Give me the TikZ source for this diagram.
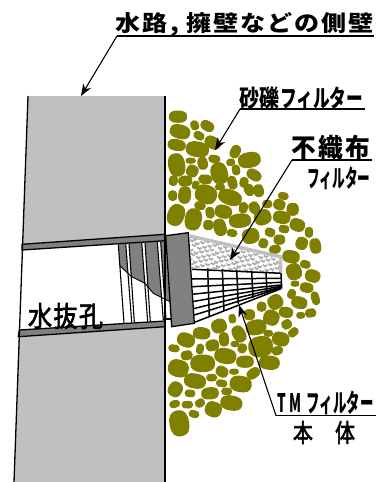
\documentclass[tikz,border=0pt]{standalone}
\usepackage{fontspec}
\usepackage{graphicx}
\usetikzlibrary{arrows.meta}
\newfontfamily\cjk{Noto Sans CJK JP}[LetterSpace=8]
\newfontfamily\cjktight{Noto Sans CJK JP}
\newfontfamily\cjkmid{Noto Sans CJK JP}[FakeBold=2.5,LetterSpace=6]
\definecolor{stonecol}{HTML}{808000}
\definecolor{wallcol}{HTML}{C0C0C0}
\definecolor{darkcol}{HTML}{808080}
\tikzset{
  stone/.style={fill=stonecol,draw=stonecol,line width=1pt,line join=round},
  edgeline/.style={draw=black,line width=1.3pt},
  rib/.style={draw=black,line width=1.1pt},
  mesh/.style={draw=black,line width=1.5pt},
  label/.style={inner sep=0pt,outer sep=0pt,anchor=center,text=black},
  underline/.style={draw=black,line width=1.3pt},
  pointer/.style={draw=black,line width=1.1pt,-{Stealth[length=12pt,width=9pt]}},
}
\newcommand{\fit}[3]{\resizebox*{#1pt}{#2pt}{#3}}
\newcommand{\stoneset}[3]{%
  \foreach \x/\y/\a/\b/\r in {#3}{%
    \pgfmathsetmacro{\pa}{\a/3}\pgfmathsetmacro{\pb}{\b/3}%
    \pgfmathsetmacro{\qa}{0.68*\pa}\pgfmathsetmacro{\qb}{0.68*\pb}%
    \draw[stone,shift={(#1+\x/3,#2+\y/3)},rotate=-\r] (\pa,0) .. controls (\pa,\qb) and (\qa,\pb) .. (0,\pb) .. controls (-\qa,\pb) and (-\pa,\qb) .. (-\pa,0) .. controls (-\pa,-\qb) and (-\qa,-\pb) .. (0,-\pb) .. controls (\qa,-\pb) and (\pa,-\qb) .. (\pa,0) -- cycle;
  }}
\begin{document}
\begin{tikzpicture}[x=1pt,y=-1pt]
\useasboundingbox (0,0) rectangle (376,482);
% wall
\fill[wallcol] (28,96) -- (165,96) -- (165,482) -- (14,482) -- cycle;
% hole
\fill[white] (22,247) -- (165,237) -- (165,324) -- (19,333) -- cycle;
% pipe shaded part
\fill[darkcol] (118.3,244.3) -- (120,266) -- (131.7,276.7) -- (145,283.3) -- (153.3,293.3) -- (170,301.7) -- (165,241) -- cycle;
% ribs
\foreach \a/\b/\c/\d in {125.7/243.3/131.7/322.3, 141.7/242.7/147.7/321.7, 157.3/242/163.3/320}{
  \fill[white] (\a,\b) -- (\a+3.2,\b) -- (\c+2.8,\d) -- (\c,\d) -- cycle;
}
\foreach \a/\b/\c/\d in {118.3/244.3/124/323, 125.7/243.3/131.7/322.3, 129/243.3/134.3/322, 141.7/242.7/147.7/321.7, 145/242.7/150.3/321.7, 157.3/242/163.3/320, 160.7/242/166/320}{
  \draw[rib] (\a,\b) -- (\c,\d);
}
\draw[line width=.9pt] (120,266) -- (131.7,276.7) -- (145,283.3) -- (153.3,293.3) -- (170,301.7);
\draw[line width=1.6pt] (165,319) -- (172,319);
% bands
\filldraw[fill=darkcol,edgeline] (22,244.3) -- (165,234.3) -- (165,240.7) -- (22,250) -- cycle;
\filldraw[fill=darkcol,edgeline] (19.3,330) -- (165,321) -- (165,326.7) -- (18.3,336.7) -- cycle;
% wall edges
\draw[edgeline] (28,96) -- (14,482);
\draw[edgeline] (165,96) -- (165,482);
% stones
\stoneset{160}{100}{54/50/26/17/0,60/95/30/20/15,104/76/11/14/-20,142/78/20/14/30,117/107/16/11/30,50/135/26/16/10,112/148/34/22/10,158/128/24/17/30,50/195/24/34/-10,92/182/14/8/0,128/190/14/18/-10,163/177/17/11/10,226/155/14/19/25,268/180/33/22/-10,212/187/12/10/-10,97/213/17/17/30,178/220/24/32/-15,228/210/11/15/-10,282/225/22/15/30,40/242/12/15/10,76/243/20/15/-5,136/238/20/13/5,107/255/10/12/20,217/248/13/20/-15,252/247/12/15/10,180/261/14/9/0,296/272/14/18/-10,268/270/14/17/-30,38/287/12/15/0,74/285/18/25/5,138/283/32/27/20,210/292/35/22/20,120/317/16/11/10,48/345/24/32/20,100/358/24/32/10,150/338/12/17/-10,190/335/25/19/15,250/323/12/16/10,283/323/15/17/-30,322/312/14/11/0,370/288/15/10/10,358/314/17/15/20,398/328/17/18/0,240/362/32/20/-5,308/352/25/22/-20,365/352/25/18/10,412/375/22/18/20,145/375/14/14/0}
\stoneset{160}{210}{180/52/18/25/-15,447/67/11/15/0,216/69/15/10/10,272/78/25/22/-15,330/67/15/12/20,372/57/15/11/10,310/100/13/14/20,358/89/16/14/0,345/118/17/12/-10,425/100/17/18/20,466/108/16/22/-10,393/140/25/18/10,436/163/15/11/15,402/185/22/24/-20,458/198/22/18/15,405/221/12/8/0,440/233/19/14/10,395/252/11/14/25,466/265/11/20/-15,418/278/23/17/15,346/276/22/21/-30,305/290/13/14/0,378/307/20/15/10,422/316/12/9/0,452/309/16/12/-10,334/323/23/22/20,268/314/16/15/0,217/326/10/13/-10}
\stoneset{160}{320}{78/60/26/20/20,125/40/25/17/5,177/18/22/20/-20,192/58/14/20/-5,237/42/18/25/-30,288/22/30/22/-10,380/13/15/13/-30,400/37/16/11/-40,325/40/13/9/0,362/57/25/20/15,302/80/36/30/-10,352/92/16/12/-20,328/128/30/20/5,42/85/16/10/10,120/87/10/15/10,157/76/19/16/-15,225/72/12/8/0,247/85/12/14/30,80/106/17/13/-10,55/145/30/25/15,128/130/36/25/0,196/108/32/22/10,255/125/25/17/0,280/160/20/14/-35,186/155/18/15/30,222/155/13/8/0,105/183/32/21/10,155/173/15/10/0,185/190/16/10/10,242/192/32/23/10,46/208/20/22/30,90/220/15/10/5,150/220/25/17/-5,200/214/15/10/0,44/252/15/10/-15,82/254/16/10/0,120/249/14/11/-30,160/268/24/22/20,214/249/32/21/10,102/282/15/10/15,58/310/28/38/-10}
% non-woven fabric
\fill[white] (190,236) -- (280.7,256.7) -- (280.7,273.3) -- (191.7,268) -- cycle;
\begin{scope}
  \clip (190,236) -- (280.7,256.7) -- (280.7,273.3) -- (191.7,268) -- cycle;
  \foreach \i in {0,...,18}{
    \foreach \j in {0,...,8}{
      \pgfmathsetmacro{\px}{188+\i*5.2+mod(\j*37,5)}
      \pgfmathsetmacro{\py}{235+\j*4.6+mod(\i*23,4)}
      \draw[black!33,line width=1.7pt] (\px,\py) -- ++(2.4,1.8) -- ++(1.8,-1.3);
    }
  }
\end{scope}
\draw[wallcol,line width=3.4pt,line join=round] (190,236) -- (280.7,256.7) -- (280.7,272.5);
% mesh body
\fill[white] (192,269.3) -- (281,273.3) -- (281,288.7) -- (195.7,323.3) -- cycle;
\foreach \l/\rr in {269.3/273.3,279/278.3,286.7/282.3,294.3/285,301.7/286.3,309/287.3,315.7/288,323.3/288.7}{
  \draw[mesh] (192,\l) -- (281,\rr);
}
\foreach \a/\b/\c/\d in {207.7/268.3/209.3/317,222.3/269/224/311,236.7/270/238.3/304,251.7/271/253/298,266/271.7/267/293,281/273.3/281.7/288.7}{
  \draw[mesh] (\a,\b) -- (\c,\d);
}
% cap
\filldraw[fill=darkcol,edgeline,line join=miter] (165.7,235.7) -- (188.3,232.7) -- (194.3,323.3) -- (171.7,326.7) -- cycle;
% leaders
\coordinate (c1) at (117,36);  \coordinate (c1e) at (374,36);  \coordinate (c1t) at (81,96);
\coordinate (c2) at (240,109); \coordinate (c2e) at (365,109); \coordinate (c2t) at (215,150);
\coordinate (c3) at (292,160); \coordinate (c3e) at (372,160); \coordinate (c3t) at (230,260);
\coordinate (c4) at (276,415.7); \coordinate (c4e) at (376,415.7); \coordinate (c4t) at (239,305);
\draw[underline] (c1) -- (c1e);
\draw[pointer] (c1) -- (c1t);
\draw[underline] (c2) -- (c2e);
\draw[pointer] (c2) -- (c2t);
\draw[underline] (c3) -- (c3e);
\draw[pointer] (c3) -- (c3t);
\draw[underline] (c4) -- (c4e);
\draw[pointer] (c4) -- (c4t);
% labels
\node[label] (t1) at (245,25) {\fit{258}{24}{\cjk\bfseries 水路, 擁壁などの側壁}};
\node[label] (t2a) at (259,98.5) {\fit{40}{23}{\cjktight\bfseries 砂礫}};
\node[label] (t2b) at (321.5,98.5) {\fit{83}{23}{\cjktight\bfseries フィルター}};
\node[label] (t3) at (331,148) {\fit{78}{25}{\cjk\bfseries 不織布}};
\node[label] (t4) at (339,178.5) {\fit{63}{23}{\cjktight\bfseries フィルター}};
\node[label] (t5a) at (289.5,403) {\fit{25}{19}{\cjk\bfseries T M}};
\node[label] (t5b) at (340,403) {\fit{67}{24}{\cjktight\bfseries フィルター}};
\node[label] (t6) at (324,432.5) {\fit{62}{23}{\cjkmid 本　体}};
\node[label] (t7) at (65.5,316) {\fit{75}{26}{\cjkmid 水抜孔}};
\end{tikzpicture}
\end{document}
